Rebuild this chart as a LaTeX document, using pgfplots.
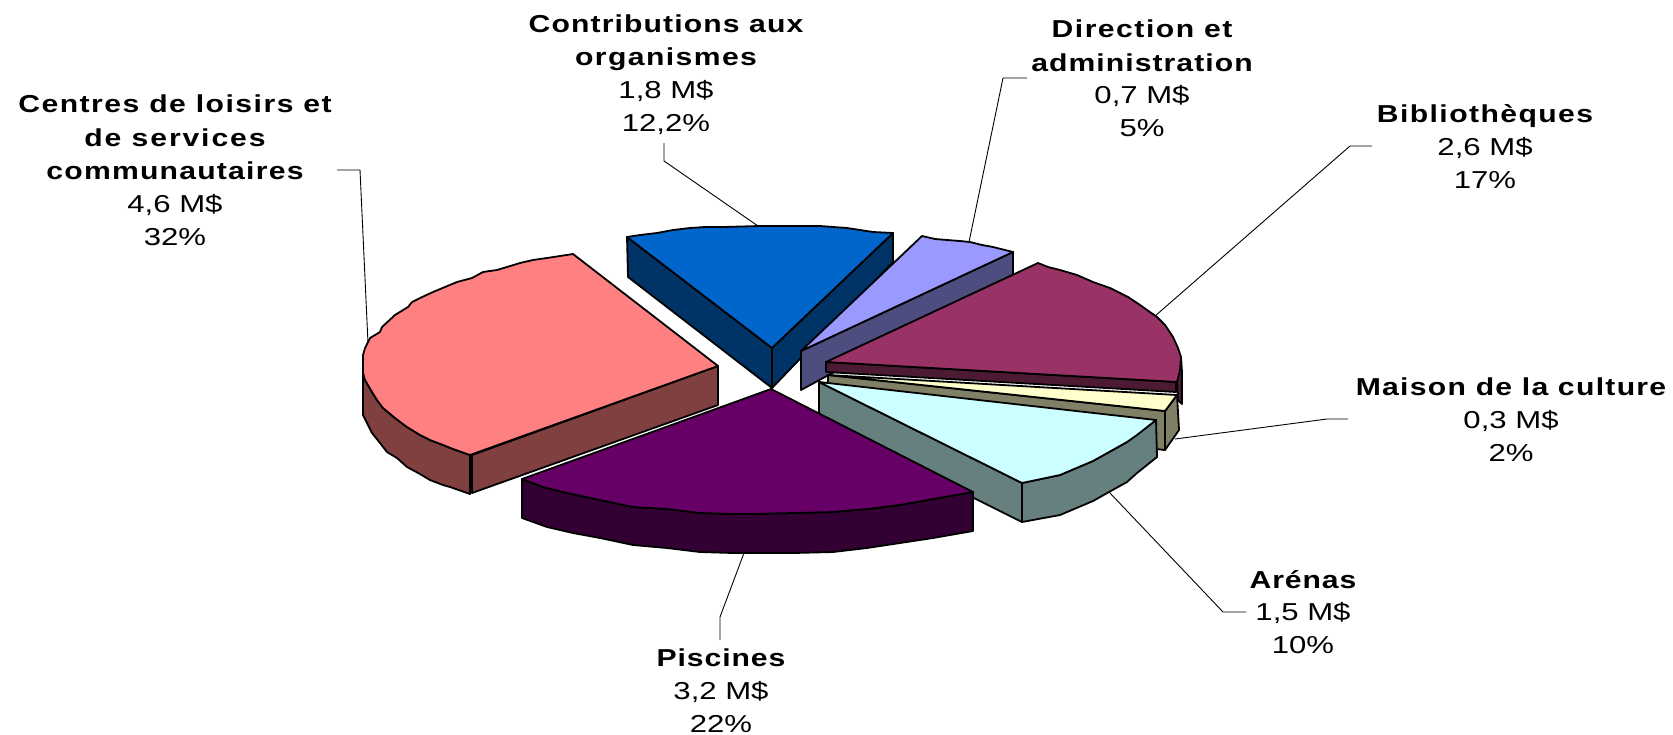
\documentclass[border=0pt]{standalone}
\usepackage{fontspec}
\setmainfont{Liberation Sans}[FakeStretch=1.23]
\newfontface\rface{Liberation Sans}[FakeStretch=1.27]
\newcommand{\ls}[1]{\bfseries\addfontfeature{LetterSpace=#1}}
\usepackage{pgfplots}
\pgfplotsset{compat=1.18}
\tikzset{lb/.style={anchor=base,inner sep=0pt,font=\fontsize{12.25}{16}\selectfont}}
\begin{document}
\begin{tikzpicture}[x=1pt,y=1pt]
\useasboundingbox (0,0) rectangle (836.5pt,367pt);
\definecolor{pinkT}{HTML}{FF8080}\definecolor{pinkS}{HTML}{804040}
\definecolor{blueT}{HTML}{0066CC}\definecolor{blueS}{HTML}{003366}
\definecolor{lavT}{HTML}{9999FF}\definecolor{lavS}{HTML}{4D4D80}
\definecolor{marT}{HTML}{993366}\definecolor{marS}{HTML}{4D1A33}
\definecolor{yelT}{HTML}{FFFFCC}\definecolor{yelS}{HTML}{808066}
\definecolor{cyaT}{HTML}{CCFFFF}\definecolor{cyaS}{HTML}{668080}
\definecolor{purT}{HTML}{660066}\definecolor{purS}{HTML}{330033}
\begin{axis}[at={(0pt,367pt)},anchor=origin,width=836.5pt,height=367pt,scale only axis,
 xmin=0,xmax=1673,ymin=0,ymax=734,y dir=reverse,hide axis,clip=false,
 every axis plot/.append style={no markers,line join=round,line width=0.9pt,draw=black}]
% leaders
\addplot[line width=0.45pt,draw=black] coordinates {(664,143)(664,161)(758,226)};
\addplot[line width=0.45pt,draw=black] coordinates {(337,170)(360,170)(368,343)};
\addplot[line width=0.45pt,draw=black] coordinates {(1027,78)(1003,78)(969,242)};
\addplot[line width=0.45pt,draw=black] coordinates {(1372,146)(1350,146)(1155,316)};
\addplot[line width=0.45pt,draw=black] coordinates {(1348,419)(1327,419)(1175,439)};
\addplot[line width=0.45pt,draw=black] coordinates {(1246,612)(1223,612)(1109,492)};
\addplot[line width=0.45pt,draw=black] coordinates {(720,640)(720,617)(744,553)};
% blue
\addplot[fill=blueS] coordinates {(627,237)(772,348)(772,388)(628,277)} --cycle;
\addplot[fill=blueS] coordinates {(772,348)(893,233)(893,262)(772,388)} --cycle;
\addplot[fill=blueT] coordinates {(627,237)(640,235)(657,233)(673,230)(690,228)(705,227)(723,227)(760,226)(800,226)(820,226)(847,228)(873,232)(893,233)(772,348)} --cycle;
% lavender
\addplot[fill=lavS] coordinates {(801,351)(1013,252)(1013,275)(801,390)} --cycle;
\addplot[fill=lavT] coordinates {(801,351)(922,236)(935,239)(947,240)(960,241)(970,242)(982,245)(993,247)(1013,252)} --cycle;
% maroon
\addplot[fill=marS] coordinates {(1181,357)(1182,372)(1182,404)(1178,400)(1177,382)} --cycle;
\addplot[fill=marS] coordinates {(826,362)(1176,382)(1176,392)(826,372)} --cycle;
\addplot[fill=marT] coordinates {(826,362)(1038,263)(1048,267)(1060,270)(1077,275)(1093,282)(1110,288)(1128,297)(1140,305)(1157,317)(1165,325)(1173,337)(1178,348)(1181,357)(1180,370)(1177,382)} --cycle;
% olive / yellow
\addplot[fill=yelS] coordinates {(1165,411)(1177,395)(1179,430)(1165,450)} --cycle;
\addplot[fill=yelS] coordinates {(828,375)(1165,411)(1165,450)(828,414)} --cycle;
\addplot[fill=yelT] coordinates {(828,375)(1177,395)(1165,411)} --cycle;
% cyan
\addplot[fill=cyaS] coordinates {(819,382)(1022,483)(1022,522)(819,421)} --cycle;
\addplot[fill=cyaS] coordinates {(1022,483)(1060,475)(1093,461)(1127,442)(1156,420)(1157,457)(1137,473)(1127,482)(1109,492)(1093,501)(1060,515)(1022,522)} --cycle;
\addplot[fill=cyaT] coordinates {(819,382)(1156,420)(1137,435)(1127,442)(1093,461)(1060,475)(1022,483)} --cycle;
% purple
\addplot[fill=purS] coordinates {(522,479)(543,487)(567,493)(600,500)(633,507)(667,509)(700,513)(733,514)(753,514)(793,513)(833,512)(867,509)(900,505)(933,499)(973,492)(973,531)(933,538)(900,543)(867,548)(833,552)(793,553)(753,553)(733,553)(700,552)(667,548)(633,545)(600,538)(573,533)(547,527)(522,518)} --cycle;
\addplot[fill=purT] coordinates {(771,389)(973,492)(933,499)(900,505)(867,509)(833,512)(793,513)(753,514)(733,514)(700,513)(667,509)(633,507)(600,500)(567,493)(543,487)(522,479)} --cycle;
% pink
\addplot[fill=pinkS] coordinates {(363,373)(365,380)(372,392)(377,400)(383,408)(395,418)(407,427)(420,435)(430,440)(443,445)(453,449)(470,455)(470,494)(450,487)(443,485)(430,480)(420,474)(407,467)(397,458)(387,452)(380,443)(372,433)(367,423)(363,415)} --cycle;
\addplot[fill=pinkS] coordinates {(472,455)(718,366)(718,405)(472,493)} --cycle;
\addplot[fill=pinkT] coordinates {(718,366)(573,254)(560,256)(547,258)(533,260)(520,263)(507,267)(497,270)(483,272)(472,278)(457,282)(445,287)(433,292)(420,298)(412,302)(408,307)(395,315)(382,327)(380,332)(370,338)(365,348)(363,355)(363,373)(365,380)(372,392)(377,400)(383,408)(395,418)(407,427)(420,435)(430,440)(443,445)(453,449)(470,455)} --cycle;
% labels
\node[lb] at (axis cs:666,32) {\ls{4.6}Contributions aux};
\node[lb] at (axis cs:666,65) {\ls{5.8}organismes};
\node[lb] at (axis cs:666,98) {\rface 1,8 M\$};
\node[lb] at (axis cs:666,131) {\rface 12,2\%};
\node[lb] at (axis cs:175,112) {\ls{6.1}Centres de loisirs et};
\node[lb] at (axis cs:175,146) {\ls{7.7}de services};
\node[lb] at (axis cs:175,179) {\ls{5}communautaires};
\node[lb] at (axis cs:175,212) {\rface 4,6 M\$};
\node[lb] at (axis cs:175,245) {\rface 32\%};
\node[lb] at (axis cs:1142,37) {\ls{6.1}Direction et};
\node[lb] at (axis cs:1142,71) {\ls{4.3}administration};
\node[lb] at (axis cs:1142,103) {\rface 0,7 M\$};
\node[lb] at (axis cs:1142,136) {\rface 5\%};
\node[lb] at (axis cs:1485,122) {\ls{5.8}Bibliothèques};
\node[lb] at (axis cs:1485,155) {\rface 2,6 M\$};
\node[lb] at (axis cs:1485,188) {\rface 17\%};
\node[lb] at (axis cs:1511,395) {\ls{5.3}Maison de la culture};
\node[lb] at (axis cs:1511,428) {\rface 0,3 M\$};
\node[lb] at (axis cs:1511,461) {\rface 2\%};
\node[lb] at (axis cs:1303,588) {\ls{3.6}Arénas};
\node[lb] at (axis cs:1303,620) {\rface 1,5 M\$};
\node[lb] at (axis cs:1303,653) {\rface 10\%};
\node[lb] at (axis cs:721,666) {\ls{3.8}Piscines};
\node[lb] at (axis cs:721,699) {\rface 3,2 M\$};
\node[lb] at (axis cs:721,732) {\rface 22\%};
\end{axis}
\end{tikzpicture}
\end{document}
